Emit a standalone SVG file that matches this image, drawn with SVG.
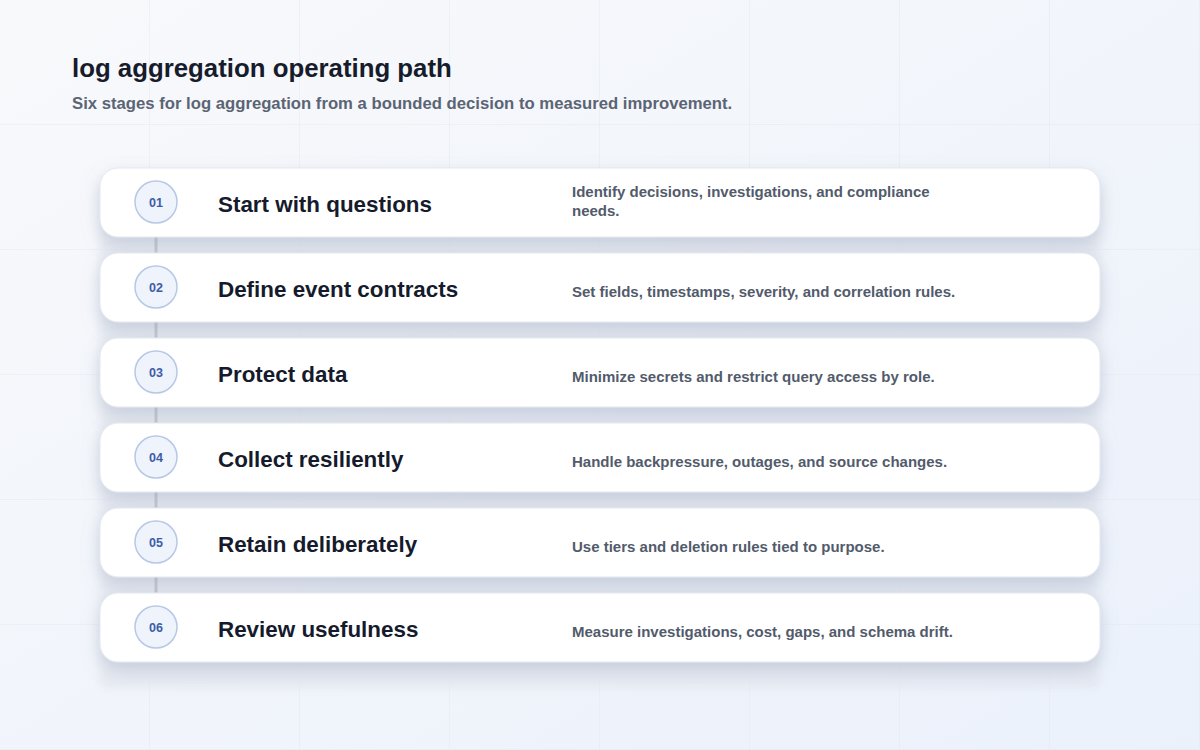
<svg xmlns="http://www.w3.org/2000/svg" width="1200" height="750" viewBox="0 0 1200 750">
<defs>
<linearGradient id="bg" x1="0" y1="0" x2="1" y2="1">
<stop offset="0" stop-color="#f8f9fb"/>
<stop offset="1" stop-color="#ebf1fb"/>
</linearGradient>
<pattern id="grid" width="150" height="125" patternUnits="userSpaceOnUse" x="0" y="0">
<path d="M150 0 V125 M0 125 H150" fill="none" stroke="#e4e8ef" stroke-width="1"/>
</pattern>
<filter id="sh" x="-10%" y="-40%" width="120%" height="200%">
<feDropShadow dx="0" dy="7" stdDeviation="9" flood-color="#7d8aab" flood-opacity="0.3"/>
</filter>
<filter id="psh" x="-10%" y="-10%" width="120%" height="120%">
<feGaussianBlur stdDeviation="5"/>
</filter>
</defs>
<style>
.card{fill:#ffffff;stroke:#e3e7ef;stroke-width:1;filter:url(#sh)}
.badge{fill:#eef3fc;stroke:#b7c8e6;stroke-width:1.5}
.num{font-family:"Liberation Sans",Arial,sans-serif;font-size:12.5px;font-weight:700;fill:#3d5ca6;text-anchor:middle}
.ttl{font-family:"Liberation Sans",Arial,sans-serif;font-size:22.4px;font-weight:700;fill:#151b2c}
.dsc{font-family:"Liberation Sans",Arial,sans-serif;font-size:15px;font-weight:700;fill:#525b6b}
.link{stroke:#c5c9d1;stroke-width:3;fill:none}
</style>
<rect width="1200" height="750" fill="url(#bg)"/>
<rect width="1200" height="750" fill="url(#grid)"/>
<rect x="100" y="185" width="1000" height="503" fill="#e2e6ee" opacity="0.75" filter="url(#psh)"/>
<g id="header">
<text x="72" y="77" font-family="'Liberation Sans',Arial,sans-serif" font-size="25.8" font-weight="700" fill="#161c2c">log aggregation operating path</text>
<text x="72" y="109" font-family="'Liberation Sans',Arial,sans-serif" font-size="16.7" font-weight="700" fill="#5b6474">Six stages for log aggregation from a bounded decision to measured improvement.</text>
</g>
<g id="connectors">
<line class="link" x1="156" y1="237" x2="156" y2="253"/>
<line class="link" x1="156" y1="322" x2="156" y2="338"/>
<line class="link" x1="156" y1="407" x2="156" y2="423"/>
<line class="link" x1="156" y1="492" x2="156" y2="508"/>
<line class="link" x1="156" y1="577" x2="156" y2="593"/>
</g>
<g id="step1">
<rect class="card" x="100" y="168" width="1000" height="69" rx="18"/>
<circle class="badge" cx="156" cy="202" r="21"/>
<text class="num" x="156" y="206.5">01</text>
<text class="ttl" x="218" y="212">Start with questions</text>
<text class="dsc" x="572" y="196.5">Identify decisions, investigations, and compliance</text>
<text class="dsc" x="572" y="216">needs.</text>
</g>
<g id="step2">
<rect class="card" x="100" y="253" width="1000" height="69" rx="18"/>
<circle class="badge" cx="156" cy="287" r="21"/>
<text class="num" x="156" y="291.5">02</text>
<text class="ttl" x="218" y="297">Define event contracts</text>
<text class="dsc" x="572" y="297">Set fields, timestamps, severity, and correlation rules.</text>
</g>
<g id="step3">
<rect class="card" x="100" y="338" width="1000" height="69" rx="18"/>
<circle class="badge" cx="156" cy="372" r="21"/>
<text class="num" x="156" y="376.5">03</text>
<text class="ttl" x="218" y="382">Protect data</text>
<text class="dsc" x="572" y="382">Minimize secrets and restrict query access by role.</text>
</g>
<g id="step4">
<rect class="card" x="100" y="423" width="1000" height="69" rx="18"/>
<circle class="badge" cx="156" cy="457" r="21"/>
<text class="num" x="156" y="461.5">04</text>
<text class="ttl" x="218" y="467">Collect resiliently</text>
<text class="dsc" x="572" y="467">Handle backpressure, outages, and source changes.</text>
</g>
<g id="step5">
<rect class="card" x="100" y="508" width="1000" height="69" rx="18"/>
<circle class="badge" cx="156" cy="542" r="21"/>
<text class="num" x="156" y="546.5">05</text>
<text class="ttl" x="218" y="552">Retain deliberately</text>
<text class="dsc" x="572" y="552">Use tiers and deletion rules tied to purpose.</text>
</g>
<g id="step6">
<rect class="card" x="100" y="593" width="1000" height="69" rx="18"/>
<circle class="badge" cx="156" cy="627" r="21"/>
<text class="num" x="156" y="631.5">06</text>
<text class="ttl" x="218" y="637">Review usefulness</text>
<text class="dsc" x="572" y="637">Measure investigations, cost, gaps, and schema drift.</text>
</g>
</svg>
